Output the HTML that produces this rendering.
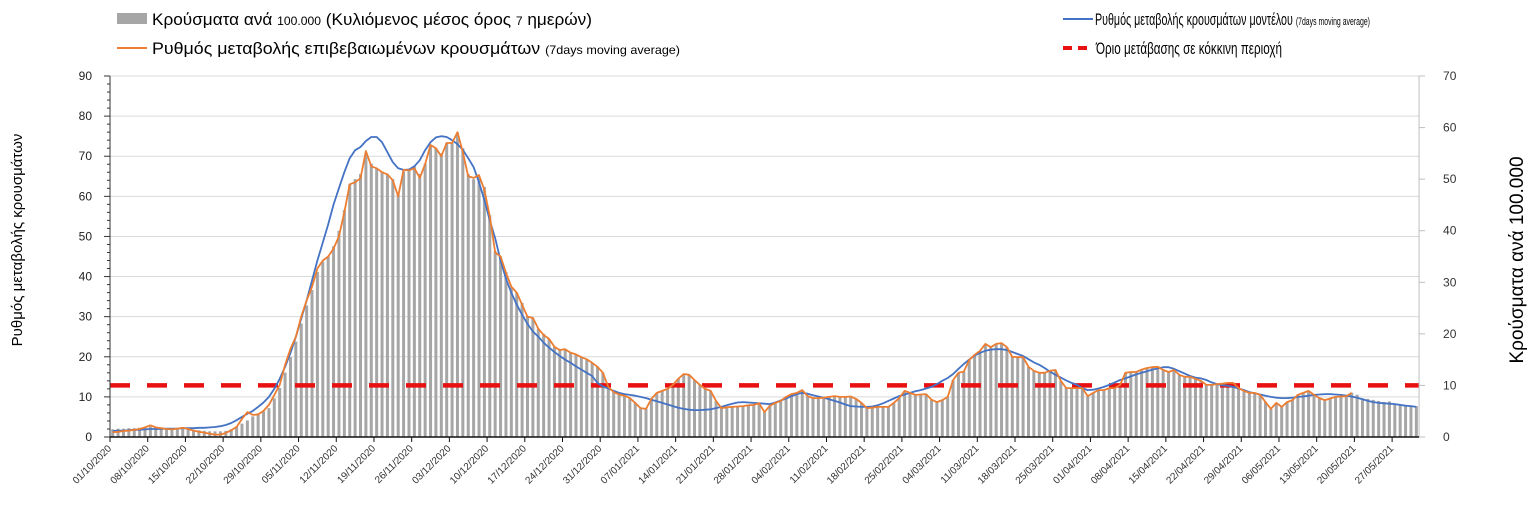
<!DOCTYPE html>
<html><head><meta charset="utf-8">
<style>
html,body{margin:0;padding:0;background:#fff;}
svg{display:block;font-family:"Liberation Sans Narrow","Liberation Sans","Noto Sans CJK SC",sans-serif;}
</style></head>
<body>
<svg id="chart" width="1535" height="523" viewBox="0 0 1535 523">
<g id="grid"></g>
<g id="bars"></g>
<g id="lines"></g>
<g id="axes"></g>
<g>
  <rect x="117" y="13" width="30" height="11" fill="#a6a6a6"/>
  <text x="152" y="25" font-size="17" textLength="440" lengthAdjust="spacingAndGlyphs">Κρούσματα ανά <tspan font-size="12">100.000</tspan> (Κυλιόμενος μέσος όρος <tspan font-size="12">7</tspan> ημερών)</text>
  <line x1="117" y1="48" x2="147" y2="48" stroke="#ed7d31" stroke-width="2"/>
  <text x="152" y="54" font-size="17" textLength="528" lengthAdjust="spacingAndGlyphs">Ρυθμός μεταβολής επιβεβαιωμένων κρουσμάτων <tspan font-size="12">(7days moving average)</tspan></text>
  <line x1="1063" y1="19" x2="1093" y2="19" stroke="#4472c4" stroke-width="2"/>
  <text x="1095" y="25" font-size="17" textLength="275" lengthAdjust="spacingAndGlyphs">Ρυθμός μεταβολής κρουσμάτων μοντέλου <tspan font-size="11">(7days moving average)</tspan></text>
  <line x1="1063" y1="48" x2="1093" y2="48" stroke="#e81010" stroke-width="4" stroke-dasharray="9,6"/>
  <text x="1096" y="54" font-size="17" textLength="186" lengthAdjust="spacingAndGlyphs">Όριο μετάβασης σε κόκκινη περιοχή</text>
</g>
<text transform="translate(22,240) rotate(-90)" text-anchor="middle" font-size="15">Ρυθμός μεταβολής κρουσμάτων</text>
<text transform="translate(1523,260) rotate(-90)" text-anchor="middle" font-size="19">Κρούσματα ανά 100.000</text>
</svg>
<script>
const leftTicks=[0,10,20,30,40,50,60,70,80,90];
const rightTicks=[0,10,20,30,40,50,60,70];
const threshold=10;
const dateLabels=["01/10/2020","08/10/2020","15/10/2020","22/10/2020","29/10/2020","05/11/2020","12/11/2020","19/11/2020","26/11/2020","03/12/2020","10/12/2020","17/12/2020","24/12/2020","31/12/2020","07/01/2021","14/01/2021","21/01/2021","28/01/2021","04/02/2021","11/02/2021","18/02/2021","25/02/2021","04/03/2021","11/03/2021","18/03/2021","25/03/2021","01/04/2021","08/04/2021","15/04/2021","22/04/2021","29/04/2021","06/05/2021","13/05/2021","20/05/2021","27/05/2021"];
const bars=[1.5,1.6,1.6,1.7,1.7,1.8,1.9,2.0,1.9,1.8,
1.7,1.6,1.7,1.7,1.6,1.4,1.3,1.2,1.1,1.1,
1.1,1.2,1.5,2.0,2.6,3.2,4.0,4.6,5.0,5.6,
7.5,9.5,12.5,15.5,18.5,22,25.5,28.5,32,34,
35,37,40,44,49,50,51,55,53,52,
51.5,51,50,47,51.5,52,52.5,51,53,56.5,
56,55,57,57,59,56,51,50,50.5,48.5,
43,36,35,32,29,28,26,23.5,23,21,
20,19,17.5,17,17,16.3,16,15.5,15,14.4,
13.6,12.5,9.8,8.7,8.2,8,7.5,6.6,5.6,5.5,
7.4,8.5,9,9.4,10.1,11.3,12.2,12,11,10.1,
9.3,8.9,7,5.6,5.8,5.8,5.9,6,6.1,6.2,
6.5,4.8,6.1,6.6,7,7.8,8.3,8.6,9.1,7.9,
7.5,7.5,7.6,7.8,7.9,7.8,7.8,7.9,7.4,6.6,
5.6,5.7,5.8,5.8,5.8,6.6,7.5,8.9,8.6,8.2,
8.2,8.3,7.2,6.8,7.2,7.8,11,12.4,12.7,14.9,
15.9,16.7,18,17.4,18,18.2,17.4,15.6,15.5,15.5,
13.6,12.8,12.4,12.4,12.8,13,10.9,9.5,9.5,9.5,
9.5,7.9,8.6,9.1,9.1,9.5,9.5,10.1,12.4,12.6,
12.6,13.1,13.4,13.5,13.6,13,12.6,13,12.1,11.7,
11.7,11.3,10.9,10.1,10.1,10.3,10.3,10.5,10.5,9.5,
8.9,8.6,8.6,8.2,6.8,5.4,6.6,5.8,6.8,7.2,
8.2,8.6,8.9,8.2,7.5,7.2,7.5,7.8,7.9,7.9,
8.6,8.2,7.5,7.4,7.2,7,6.8,6.9,6.5,6.3,6.2,6.1,6.0];
const confirmed=[1.2,1.3,1.5,1.6,1.8,2.0,2.4,2.9,2.4,2.2,
2.0,1.9,2.1,2.3,2.0,1.6,1.3,1.1,0.8,0.6,
0.6,1.0,1.7,2.5,4.5,6.2,5.5,5.6,6.5,8.0,
10.5,13,18,22,25,30,34,37.4,42,44,
45,47,50,56,63,63.5,64.5,71.3,67.5,67,
66,65.5,64,60,66.6,66.5,67,64.6,68,72.8,
72,70,73.3,73.3,76,71,65,64.6,65.3,61.6,
55,46,45,41,37.5,36,33,30,29.7,27,
25.4,24.5,22.5,21.7,21.9,21,20.6,19.9,19.4,18.5,
17.5,16,12.5,11.2,10.6,10.3,9.7,8.5,7.2,7.0,
9.5,11,11.5,12,13,14.5,15.7,15.5,14.2,13,
12,11.5,9,7.2,7.4,7.5,7.6,7.7,7.9,8.0,
8.4,6.2,7.8,8.5,9,10,10.7,11,11.7,10.2,
9.7,9.7,9.8,10,10.2,10,10,10.1,9.5,8.5,
7.2,7.3,7.5,7.5,7.5,8.5,9.7,11.5,11,10.5,
10.6,10.7,9.3,8.7,9.2,10,14.2,16,16.3,19.2,
20.5,21.5,23.2,22.4,23.2,23.4,22.4,20,19.9,19.9,
17.5,16.5,16,16,16.5,16.7,14,12.2,12.2,12.2,
12.2,10.2,11,11.7,11.7,12.2,12.2,13,16,16.2,
16.2,16.8,17.2,17.4,17.5,16.7,16.2,16.7,15.5,15,
15,14.5,14,13,13,13.2,13.3,13.5,13.5,12.2,
11.5,11,11,10.5,8.7,7,8.5,7.5,8.7,9.2,
10.5,11,11.5,10.5,9.7,9.2,9.6,10,10.1,10.2,11];
const model=[1.5,1.6,1.6,1.7,1.8,1.8,1.9,2.0,2.0,2.0,
2.1,2.1,2.1,2.2,2.2,2.2,2.3,2.3,2.4,2.5,
2.7,3.0,3.5,4.2,5.0,5.8,6.5,7.5,8.6,10,
12,14.5,17.5,21,25,29.5,34,39,44,48.5,
53,58,62,66,69.5,71.5,72.3,73.8,74.8,74.8,
73.5,71,68.5,67,66.6,66.7,67.5,69,71.5,73.5,
74.7,75,74.8,74,73,71.6,69.5,67.3,63.5,59,
54,49.5,44,39.5,36,33,30.5,28.2,26.3,25,
23.5,22.3,21.2,20.2,19.3,18.5,17.6,16.8,16,15.2,
13.5,12.6,12.1,11.5,11,10.7,10.5,10.3,10,9.7,
9.3,8.9,8.5,8.1,7.7,7.3,7.0,6.8,6.7,6.7,
6.8,6.9,7.2,7.5,7.9,8.3,8.6,8.7,8.6,8.5,
8.4,8.3,8.2,8.6,9.1,9.6,10.2,10.7,11,10.8,
10.4,10.1,9.8,9.4,9.0,8.6,8.1,7.7,7.6,7.5,
7.5,7.6,7.9,8.4,9,9.6,10.2,10.6,11,11.4,
11.7,12.1,12.5,13.2,14,14.7,15.7,17,18.2,19.3,
20.3,21,21.5,21.8,21.9,21.9,21.7,21.2,20.7,20.2,
19.4,18.6,18,17.2,16.3,15.5,14.8,14.1,13.5,13,
12.2,11.7,11.8,12.1,12.5,13,13.6,14.2,14.6,15.1,
15.6,16,16.4,16.8,17.1,17.4,17.4,17,16.4,15.8,
15.2,14.8,14.6,14.2,13.6,13.2,12.9,12.8,12.5,12.1,
11.7,11.2,10.9,10.6,10.3,10,9.8,9.7,9.7,9.8,
10,10.1,10.3,10.5,10.6,10.7,10.7,10.6,10.5,10.3,
10.1,9.8,9.4,9,8.7,8.5,8.4,8.3,8.2,8.0,7.8,7.7,7.5];

const NS="http://www.w3.org/2000/svg";
const X0=110, Y0=437, YTOP=76, NDAYS=243, DAYW=5.387;
const X1=X0+NDAYS*DAYW;
function xDay(d){return X0+DAYW*(d+0.5);}
function xTick(d){return X0+DAYW*d;}
function yL(v){return Y0-(Y0-YTOP)*v/90;}
function yR(v){return Y0-(Y0-YTOP)*v/70;}
function mk(tag,attrs,parent){const e=document.createElementNS(NS,tag);for(const k in attrs)e.setAttribute(k,attrs[k]);parent.appendChild(e);return e;}

const grid=document.getElementById('grid');
const axes=document.getElementById('axes');
leftTicks.forEach(t=>{
  if(t>0){const g=mk('line',{x1:X0,x2:X1,y1:yL(t),y2:yL(t),stroke:'#d9d9d9','stroke-width':1},grid);
  
  }
  const tx=mk('text',{x:X0-18,y:yL(t)+4,'text-anchor':'end','font-size':12,fill:'#222'},axes);
  tx.textContent=t;
  
  
  mk('line',{x1:X0-6,x2:X0,y1:yL(t),y2:yL(t),stroke:'#333','stroke-width':1},axes);
  if(t<90){for(let m=2;m<10;m+=2){mk('line',{x1:X0-3,x2:X0,y1:yL(t+m),y2:yL(t+m),stroke:'#333','stroke-width':1},axes);}}
});
rightTicks.forEach(t=>{
  const tx=mk('text',{x:X1+24,y:yR(t)+4,'text-anchor':'start','font-size':12,fill:'#333'},axes);
  tx.textContent=t;
  
  
  mk('line',{x1:X1,x2:X1+6,y1:yR(t),y2:yR(t),stroke:'#bfbfbf','stroke-width':1},axes);
});
const la=mk('line',{x1:X0,x2:X0,y1:YTOP,y2:Y0,stroke:'#333','stroke-width':1},axes);


const ra=mk('line',{x1:X1,x2:X1,y1:YTOP,y2:Y0,stroke:'#bfbfbf','stroke-width':1},axes);


const xa=mk('line',{x1:X0,x2:X1,y1:Y0,y2:Y0,stroke:'#111','stroke-width':1.5},axes);


dateLabels.forEach((lab,i)=>{
  const x=xTick(i*7);
  mk('line',{x1:x,x2:x,y1:Y0,y2:Y0+5,stroke:'#111','stroke-width':1},axes);
  const tx=mk('text',{transform:`translate(${x+2},${Y0+12}) rotate(-45)`,'text-anchor':'end','font-size':10,fill:'#333'},axes);
  tx.textContent=lab;
  
  
});

const barG=document.getElementById('bars');
bars.forEach((v,d)=>{
  const y=yR(v);
  const r=mk('rect',{x:xDay(d)-1.5,y:y,width:3,height:Y0-y,fill:'#a6a6a6'},barG);
  
  
});

const lines=document.getElementById('lines');
const th=mk('line',{x1:X0,x2:X1,y1:yR(threshold),y2:yR(threshold),stroke:'#e81010','stroke-width':4.5,'stroke-dasharray':'20,17'},lines);


function pathOf(arr,f){return arr.map((v,d)=>(d?'L':'M')+xDay(d).toFixed(1)+','+f(v).toFixed(1)).join('');}
const mp=mk('path',{d:pathOf(model,yL),fill:'none',stroke:'#4472c4','stroke-width':1.8,'stroke-linejoin':'round'},lines);


const cp=mk('path',{d:pathOf(confirmed,yL),fill:'none',stroke:'#ed7d31','stroke-width':1.8,'stroke-linejoin':'round'},lines);


</script>
</body></html>
